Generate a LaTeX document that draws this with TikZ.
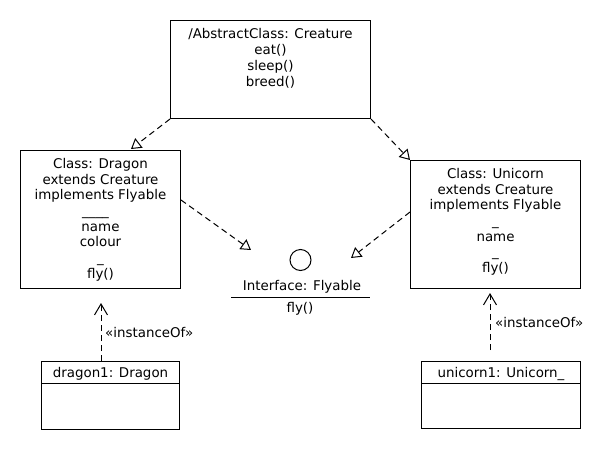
\documentclass[tikz,border=0pt]{standalone}
\usepackage{fontspec}
\setmainfont{DejaVu Sans}
\usetikzlibrary{arrows.meta,calc}
\newcommand{\boxtxt}[4]{\parbox[t][#2][t]{#1}{\centering\vspace*{#3}\strut #4}}
\tikzset{
  umlbox/.style={draw, line width=1pt, inner sep=0pt, anchor=north west},
  gen/.style={line width=1pt, dash pattern=on 6pt off 4pt, -{Triangle[open,length=10pt,width=12pt,line width=1pt]}},
  inst/.style={line width=1pt, dash pattern=on 6pt off 4pt, -{Straight Barb[length=11pt,width=13pt,line width=1pt]}},
  lbl/.style={inner sep=0pt},
}
\begin{document}
\begin{tikzpicture}[x=1pt,y=-1pt,font=\fontsize{13.4}{15.7}\selectfont]
\useasboundingbox (0,0) rectangle (610,450);
\node[umlbox] (creature) at (170,20) {\boxtxt{200pt}{98pt}{7.5pt}{/AbstractClass: Creature\\ eat()\\ sleep()\\ breed()}};
\node[umlbox] (dragon) at (20,150) {\boxtxt{160pt}{138pt}{7pt}{Class: Dragon\\ extends Creature\\ implements Flyable\\ \mbox{\_\_\_\_\hspace{10pt}}\\ name\\ colour\\ \_\\ fly()}};
\node[umlbox] (unicorn) at (410,160) {\boxtxt{170pt}{128pt}{7pt}{Class: Unicorn\\ extends Creature\\ implements Flyable\\ \_\\ name\\ \_\\ fly()}};
\node[umlbox] (d1) at (41,361) {\boxtxt{138pt}{68pt}{5pt}{dragon1: Dragon}};
\node[umlbox] (u1) at (421,361) {\boxtxt{159pt}{67pt}{5pt}{unicorn1: Unicorn\_}};
\draw[line width=1pt] ($(d1.north west)+(0,22)$) -- ($(d1.north east)+(0,22)$);
\draw[line width=1pt] ($(u1.north west)+(0,22)$) -- ($(u1.north east)+(0,22)$);
% interface
\node[draw, circle, line width=1pt, minimum size=21pt, inner sep=0pt] (flycirc) at (300.5,260) {};
\node[lbl, anchor=base] (flyname) at (302,290) {Interface: Flyable};
\coordinate (sepL) at (231,297.5);
\coordinate (sepR) at (370,297.5);
\draw[line width=1pt] (sepL) -- (sepR);
\node[lbl, anchor=base] (flyop) at (300,312.5) {fly()};
% generalizations
\coordinate (tipD) at (131,149);
\coordinate (tipFL) at (251,250);
\coordinate (tipFR) at (351,258);
\draw[gen] (creature.south west) -- (tipD);
\draw[gen] (creature.south east) -- (unicorn.north west);
\draw[gen] ($(dragon.north east)+(0,50)$) -- (tipFL);
\draw[gen] ($(unicorn.north west)+(0,52)$) -- (tipFR);
% instanceOf
\draw[inst] ($(d1.north west)+(60,0)$) -- ($(dragon.south west)+(81,14)$);
\draw[inst] ($(u1.north west)+(69,-11)$) -- ($(unicorn.south west)+(80,4)$);
\node[lbl, anchor=base west] (lblD) at (105,337.5) {«instanceOf»};
\node[lbl, anchor=base west] (lblU) at (495,327.5) {«instanceOf»};
\end{tikzpicture}
\end{document}
